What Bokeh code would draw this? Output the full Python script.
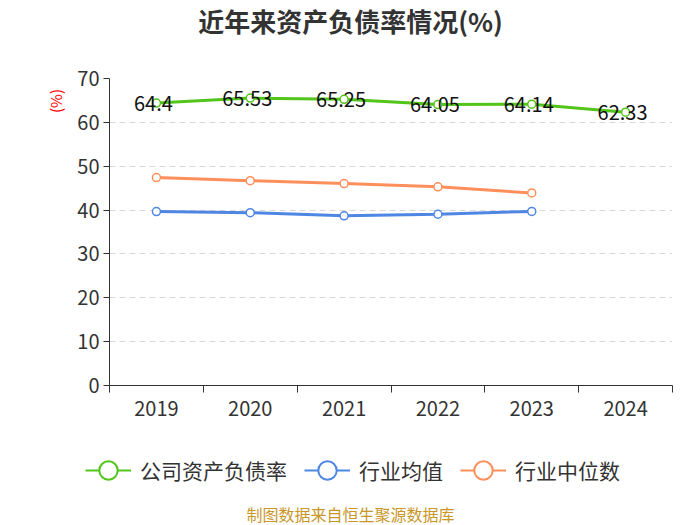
from bokeh.plotting import figure
from bokeh.layouts import column
from bokeh.core.properties import value
from bokeh.models import (Range1d, FixedTicker, Legend, LegendItem, Label,
                          ColumnDataSource, LabelSet)
from bokeh.embed import file_html
from bokeh.resources import INLINE

years = ["2019", "2020", "2021", "2022", "2023", "2024"]
company = [64.4, 65.53, 65.25, 64.05, 64.14, 62.33]
ind_mean = [39.65, 39.4, 38.7, 39.05, 39.7]
ind_median = [47.4, 46.7, 46.05, 45.3, 43.9]
series_names = ["公司资产负债率", "行业均值", "行业中位数"]
title_text = "近年来资产负债率情况(%)"
source_text = "制图数据来自恒生聚源数据库"

FONT = "Noto Sans CJK SC"
GREEN = "#52c41a"
BLUE = "#4e86e4"
ORANGE = "#ff8f5a"
COLORS = [GREEN, BLUE, ORANGE]
W = 700


def bare(fig):
    fig.outline_line_color = None
    fig.grid.visible = False
    if "frame_align" in fig.properties():
        fig.frame_align = False


xs = [i + 0.5 for i in range(len(years))]

# ---- title strip
pt = figure(width=W, height=60, output_backend="svg", toolbar_location=None,
            x_range=Range1d(0, W), y_range=Range1d(0, 60),
            x_axis_location=None, y_axis_location=None,
            min_border_left=0, min_border_right=0, min_border_top=0, min_border_bottom=0)
bare(pt)
pt.add_layout(Label(x=W / 2, y=40, text=title_text, text_align="center",
                    text_baseline="middle", text_font=FONT, text_font_size="26px",
                    text_font_style="bold", text_color="#333333"))

# ---- chart
series = [company, ind_mean, ind_median]
p = figure(width=W, height=373, output_backend="svg", toolbar_location=None,
           x_range=Range1d(0, len(years)), y_range=Range1d(0, 70),
           min_border_left=109, min_border_right=28, min_border_top=18,
           min_border_bottom=48)
p.outline_line_color = None
if "frame_align" in p.properties():
    p.frame_align = False

p.xaxis.ticker = FixedTicker(ticks=xs, minor_ticks=list(range(len(years) + 1)))
p.xaxis.major_label_overrides = {x: y for x, y in zip(xs, years)}
p.xaxis.major_tick_line_color = None
p.xaxis.minor_tick_out = 7
p.xaxis.minor_tick_in = 0
p.xaxis.minor_tick_line_color = "#333333"
p.xaxis.axis_line_color = "#333333"
p.xaxis.major_label_text_font = FONT
p.xaxis.major_label_text_font_size = "20px"
p.xaxis.major_label_text_color = "#333333"
p.xaxis.major_label_standoff = 8

p.yaxis.ticker = FixedTicker(ticks=list(range(0, 71, 10)))
p.yaxis.minor_tick_line_color = None
p.yaxis.major_tick_out = 6
p.yaxis.major_tick_in = 0
p.yaxis.major_tick_line_color = "#333333"
p.yaxis.axis_line_color = "#333333"
p.yaxis.major_label_text_font = FONT
p.yaxis.major_label_text_font_size = "20px"
p.yaxis.major_label_text_color = "#333333"
p.yaxis.major_label_standoff = 4
p.yaxis.axis_label = "(%)" + "\u2002" * 6
p.yaxis.axis_label_text_color = "red"
p.yaxis.axis_label_text_font = FONT
p.yaxis.axis_label_text_font_size = "15px"
p.yaxis.axis_label_text_font_style = "normal"
p.yaxis.axis_label_standoff = 8
p.yaxis.axis_label_align = "end"

p.xgrid.grid_line_color = None
p.ygrid.grid_line_color = "#d9d9d9"
p.ygrid.grid_line_dash = "6 4"
p.ygrid.grid_line_width = 1

for vals, col in zip(series, COLORS):
    p.line(xs[:len(vals)], vals, line_color=col, line_width=3)
    p.scatter(xs[:len(vals)], vals, size=8, fill_color="white", line_color=col, line_width=1.5)

src = ColumnDataSource(dict(x=xs, y=company, t=[f"{v:g}" for v in company]))
p.add_layout(LabelSet(x="x", y="y", text="t", source=src, text_align="center",
                      text_baseline="middle", text_font=value(FONT), text_font_size="20px",
                      text_color="#111111", x_offset=-3))

# ---- footer: legend + source note
p2 = figure(width=W, height=92, output_backend="svg", toolbar_location=None,
            x_range=Range1d(0, W), y_range=Range1d(0, 92),
            x_axis_location=None, y_axis_location=None,
            min_border_left=0, min_border_right=0, min_border_top=0, min_border_bottom=0)
bare(p2)

items = []
for name, vals, col in zip(series_names, series, COLORS):
    lr = p2.line(xs[:len(vals)], vals, line_color=col, line_width=2, visible=False)
    sr = p2.scatter(xs[:len(vals)], vals, fill_color="white", line_color=col,
                    line_width=2, visible=False)
    items.append(LegendItem(label=name, renderers=[lr, sr]))

legend = Legend(items=items, orientation="horizontal", location=(85, 32),
                label_text_font=FONT, label_text_font_size="21px",
                label_text_color="#333333", glyph_width=46, glyph_height=46,
                spacing=17, padding=0, margin=0, border_line_color=None,
                background_fill_alpha=0, label_standoff=9, inactive_fill_alpha=0)
p2.add_layout(legend)

p2.add_layout(Label(x=W / 2, y=12, text=source_text, text_align="center",
                    text_baseline="middle", text_font=FONT, text_font_size="16px",
                    text_color="#c9962a"))

open("out.html", "w").write(file_html(column(pt, p, p2, spacing=0), INLINE))
